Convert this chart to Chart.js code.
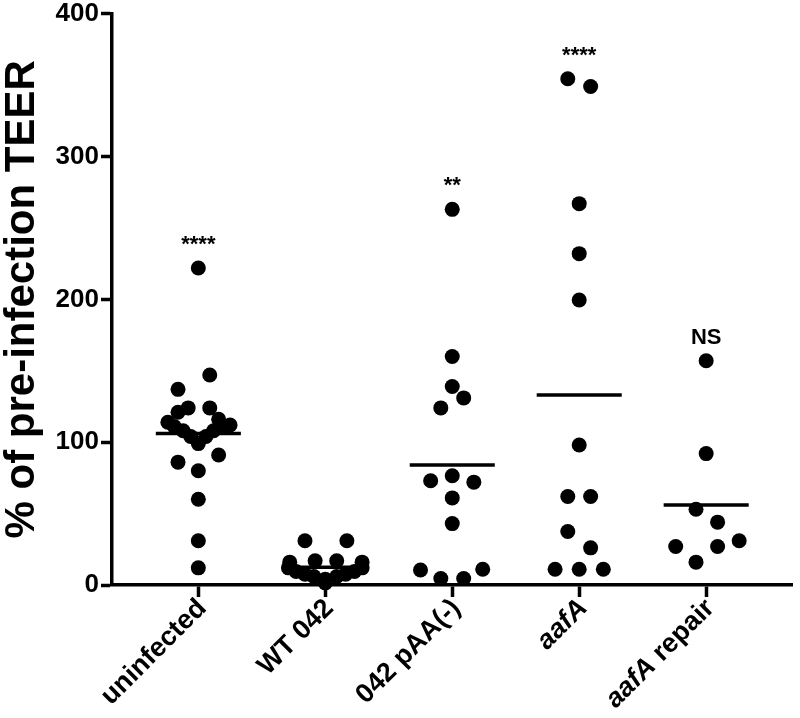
<!DOCTYPE html>
<html>
<head>
<meta charset="utf-8">
<script src="https://cdn.jsdelivr.net/npm/chart.js@4.4.1/dist/chart.umd.min.js"></script>
<style>
  html, body { margin:0; padding:0; background:#fff; }
  #wrap { width:800px; height:718px; }
</style>
</head>
<body>
<div id="wrap"><canvas id="teerChart" width="800" height="718"></canvas></div>
<script>
  const categories = ['uninfected', 'WT 042', '042 pAA(-)', 'aafA', 'aafA repair'];
  const italicTerms = ['aafA'];
  const yTicks = [0, 100, 200, 300, 400];

  // % of pre-infection TEER, one array per group
  const uninfected = [222, 147, 137, 124, 121, 124, 116, 114, 111, 108, 104, 99, 104, 108, 111, 112, 91, 86, 80, 60, 31, 12];
  const wt042 = [31, 31, 16, 17, 17, 16, 12, 9.5, 7.5, 6, 4, 6, 7.5, 9.5, 12, 1.5];
  const pAAminus = [263, 160, 139, 131, 124, 73, 76.5, 72, 61, 43, 10.5, 4.5, 4.5, 11];
  const aafA = [354.5, 349, 267, 232, 199.5, 98, 62, 62, 37.5, 26, 11, 11, 11];
  const aafARepair = [157, 92, 53, 44, 27, 27, 31, 16];

  // horizontal scatter of each dot, in fractions of a category
  const uninfectedDx = [0, 0.09, -0.16, -0.08, -0.16, 0.09, 0.16, -0.24, -0.19, -0.12, -0.06, 0, 0.06, 0.12, 0.19, 0.25, 0.16, -0.16, 0, 0, 0, 0];
  const wt042Dx = [-0.16, 0.17, -0.28, -0.08, 0.09, 0.29, -0.29, -0.23, -0.16, -0.09, 0, 0.09, 0.16, 0.23, 0.29, 0];
  const pAAminusDx = [0, 0, 0, 0.09, -0.09, -0.17, 0, 0.17, 0, 0, -0.25, -0.09, 0.09, 0.24];
  const aafADx = [-0.09, 0.09, 0, 0, 0, 0, -0.09, 0.09, -0.09, 0.09, -0.19, 0, 0.19];
  const aafARepairDx = [0, 0, -0.08, 0.09, -0.24, 0.09, 0.26, -0.08];

  const means = [106, 12.5, 84, 133, 56];
  const sigLabels = ['****', '', '**', '****', 'NS'];

  const groups = [uninfected, wt042, pAAminus, aafA, aafARepair];
  const offsets = [uninfectedDx, wt042Dx, pAAminusDx, aafADx, aafARepairDx];

  const FONT = '"Liberation Sans", Arial, Helvetica, sans-serif';
  const meanHalf = 0.335;

  const datasets = groups.map((vals, i) => ({
    label: categories[i],
    data: vals.map((v, k) => ({x: i + offsets[i][k], y: v})),
    backgroundColor: '#000',
    borderColor: '#000',
    pointRadius: 7.5,
    pointHoverRadius: 7.5,
    borderWidth: 0,
    clip: false
  }));

  const meanData = [];
  means.forEach((m, i) => {
    meanData.push({x: i - meanHalf, y: m}, {x: i + meanHalf, y: m}, {x: i, y: null});
  });
  datasets.push({
    label: 'mean',
    data: meanData,
    showLine: true,
    spanGaps: false,
    borderColor: '#000',
    borderWidth: 3.5,
    pointRadius: 0,
    clip: false
  });

  // significance marks above each group and the mixed-style category labels
  const extras = {
    id: 'extras',
    afterDraw(chart){
      const ctx = chart.ctx;
      const xs = chart.scales.x, ys = chart.scales.y;
      ctx.save();
      ctx.fillStyle = '#000';
      ctx.textAlign = 'center';
      ctx.textBaseline = 'alphabetic';
      sigLabels.forEach((s, i) => {
        if (!s) return;
        const top = ys.getPixelForValue(Math.max(...groups[i]));
        ctx.font = 'bold 22px ' + FONT;
        ctx.fillText(s, xs.getPixelForValue(i), top - 17);
      });

      const axisY = chart.chartArea.bottom;
      categories.forEach((c, i) => {
        const parts = c.split(' ').map((w, k, arr) => ({
          text: w + (k < arr.length - 1 ? ' ' : ''),
          italic: italicTerms.includes(w)
        }));
        const fontFor = p => (p.italic ? 'italic ' : '') + 'bold 27px ' + FONT;
        let total = 0;
        parts.forEach(p => { ctx.font = fontFor(p); p.w = ctx.measureText(p.text).width; total += p.w; });
        ctx.save();
        ctx.translate(xs.getPixelForValue(i) + 4, axisY + 19);
        ctx.rotate(-Math.PI / 4);
        ctx.textAlign = 'left';
        ctx.textBaseline = 'middle';
        let x = -total;
        parts.forEach(p => { ctx.font = fontFor(p); ctx.fillText(p.text, x, 0); x += p.w; });
        ctx.restore();
      });
      ctx.restore();
    }
  };

  new Chart(document.getElementById('teerChart').getContext('2d'), {
    type: 'scatter',
    data: { datasets },
    options: {
      responsive: false,
      animation: false,
      devicePixelRatio: 1,
      layout: { padding: { top: 12, left: 0, right: 0, bottom: 0 } },
      plugins: { legend: { display: false }, tooltip: { enabled: false } },
      scales: {
        x: {
          type: 'linear',
          min: -0.68,
          max: 4.68,
          afterBuildTicks: s => { s.ticks = categories.map((c, i) => ({value: i})); },
          afterFit: s => { s.height = 133; },
          ticks: { display: false },
          grid: { drawOnChartArea: false, drawTicks: true, tickLength: 12, tickWidth: 3.5, tickColor: '#000' },
          border: { display: true, color: '#000', width: 3.5 }
        },
        y: {
          min: 0,
          max: 400,
          afterBuildTicks: s => { s.ticks = yTicks.map(v => ({value: v})); },
          afterFit: s => { s.width = 112; },
          ticks: {
            color: '#000',
            padding: 2,
            font: { family: FONT, size: 26, weight: 'bold', lineHeight: 0.9 }
          },
          grid: { drawOnChartArea: false, drawTicks: true, tickLength: 11, tickWidth: 3.5, tickColor: '#000' },
          border: { display: true, color: '#000', width: 3.5 },
          title: {
            display: true,
            text: '% of pre-infection TEER',
            color: '#000',
            padding: 0,
            font: { family: FONT, size: 42, weight: 'bold', lineHeight: 1.05 }
          }
        }
      }
    },
    plugins: [extras]
  });
</script>
</body>
</html>
